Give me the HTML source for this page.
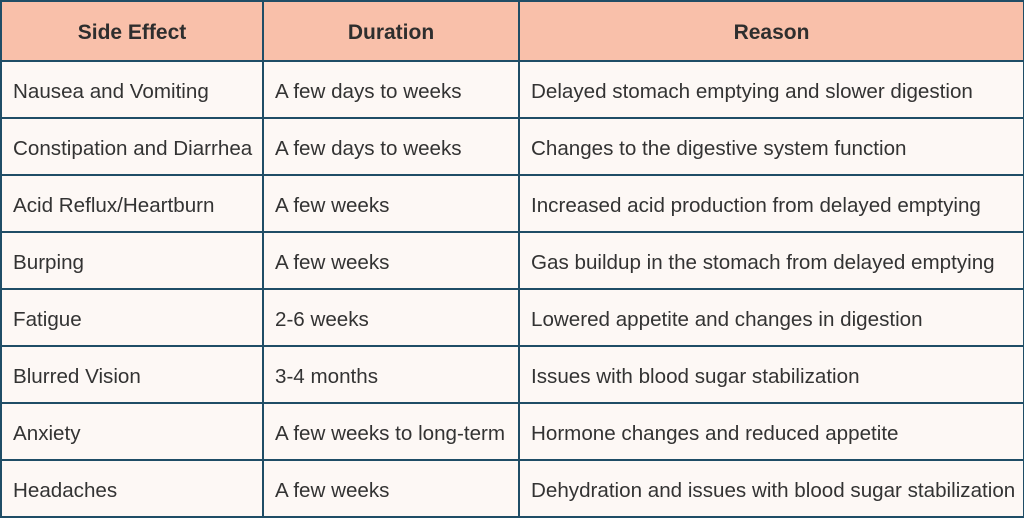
<!DOCTYPE html>
<html><head><meta charset="utf-8"><style>
html,body{margin:0;padding:0;background:#fff;}
body{width:1024px;height:520px;overflow:hidden;position:relative;}
table{position:absolute;left:0;top:0;border-collapse:collapse;table-layout:fixed;width:1023px;font-family:"Liberation Sans",sans-serif;color:#333;font-size:20.6px;}
td,th{border:2px solid #1f4d66;padding:4px 0 0 11px;text-align:left;white-space:nowrap;overflow:hidden;background:#fdf8f5;box-sizing:border-box;}
th{background:#f9c0aa;text-align:center;font-weight:bold;padding:3px 0 0 0;height:60px;font-size:21px;color:#2e2e2e;}
td{height:57px;}
</style></head><body>
<table>
<colgroup><col style="width:262px"><col style="width:256px"><col style="width:505px"></colgroup>
<tr><th>Side Effect</th><th>Duration</th><th>Reason</th></tr>
<tr><td>Nausea and Vomiting</td><td>A few days to weeks</td><td>Delayed stomach emptying and slower digestion</td></tr>
<tr><td>Constipation and Diarrhea</td><td>A few days to weeks</td><td>Changes to the digestive system function</td></tr>
<tr><td>Acid Reflux/Heartburn</td><td>A few weeks</td><td>Increased acid production from delayed emptying</td></tr>
<tr><td>Burping</td><td>A few weeks</td><td>Gas buildup in the stomach from delayed emptying</td></tr>
<tr><td>Fatigue</td><td>2-6 weeks</td><td>Lowered appetite and changes in digestion</td></tr>
<tr><td>Blurred Vision</td><td>3-4 months</td><td>Issues with blood sugar stabilization</td></tr>
<tr><td>Anxiety</td><td>A few weeks to long-term</td><td>Hormone changes and reduced appetite</td></tr>
<tr><td>Headaches</td><td>A few weeks</td><td>Dehydration and issues with blood sugar stabilization</td></tr>
</table>
</body></html>
